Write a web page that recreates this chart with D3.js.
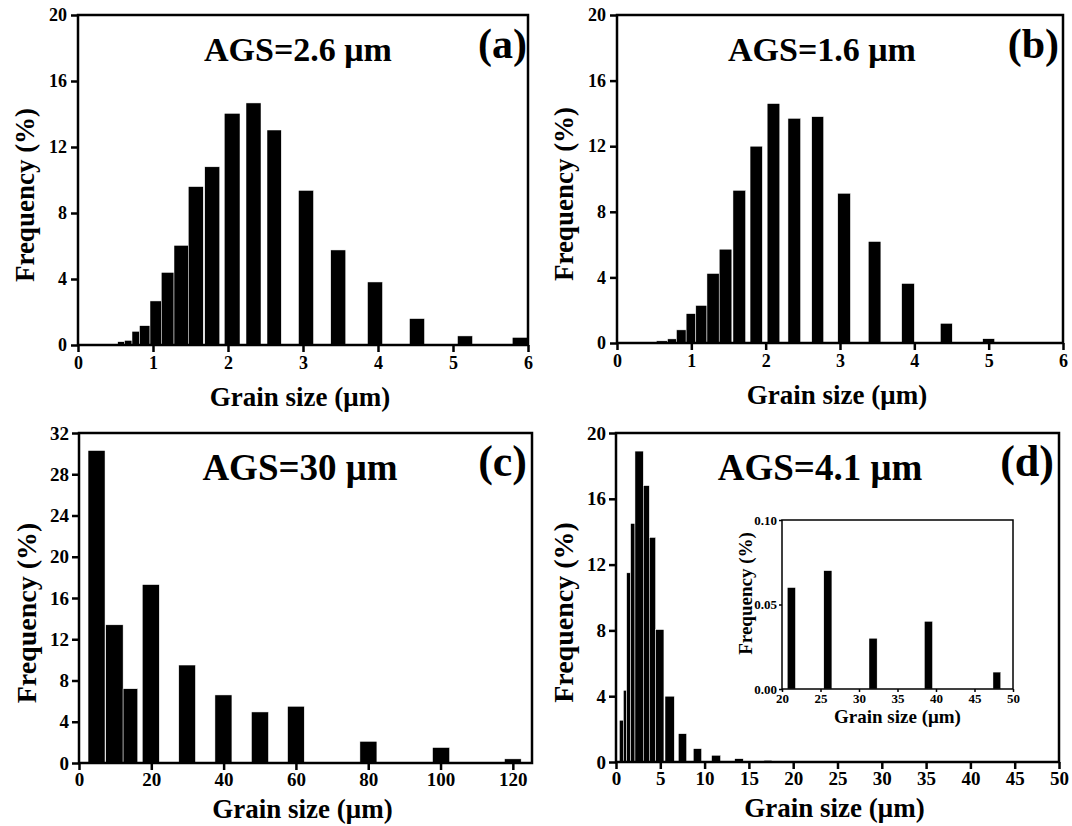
<!DOCTYPE html>
<html>
<head>
<meta charset="utf-8">
<script src="https://cdn.jsdelivr.net/npm/d3@7"></script>
<style>
  body { margin: 0; background: #fff; }
  svg text { font-family: "Liberation Serif", "Times New Roman", serif; font-weight: bold; fill: #000; }
</style>
</head>
<body>
<script>
// ---- data (bin start, bin end, frequency %) ----
const aLo   = [0.46, 0.53, 0.62, 0.72, 0.82, 0.96, 1.11, 1.28, 1.47, 1.69, 1.95, 2.24, 2.52, 2.94, 3.37, 3.86, 4.42, 5.06, 5.79];
const aHi   = [0.53, 0.62, 0.72, 0.82, 0.96, 1.11, 1.28, 1.47, 1.67, 1.89, 2.16, 2.44, 2.71, 3.14, 3.57, 4.06, 4.62, 5.26, 5.99];
const aFreq = [0.06, 0.2, 0.28, 0.83, 1.17, 2.67, 4.4, 6.04, 9.6, 10.8, 14.04, 14.67, 13.03, 9.37, 5.76, 3.82, 1.6, 0.55, 0.46];

const bLo   = [0.44, 0.53, 0.68, 0.80, 0.93, 1.06, 1.21, 1.375, 1.56, 1.79, 2.02, 2.30, 2.62, 2.97, 3.38, 3.83, 4.35, 4.92];
const bHi   = [0.53, 0.68, 0.80, 0.93, 1.06, 1.21, 1.375, 1.545, 1.73, 1.955, 2.19, 2.47, 2.78, 3.14, 3.55, 4.0, 4.51, 5.08];
const bFreq = [0.04, 0.13, 0.25, 0.8, 1.79, 2.29, 4.24, 5.72, 9.31, 12.0, 14.6, 13.7, 13.8, 9.13, 6.19, 3.63, 1.2, 0.26];

const cLo   = [2.5, 7.4, 12.2, 17.5, 27.6, 37.6, 47.7, 57.7, 77.7, 97.8, 117.7];
const cHi   = [7.2, 12.2, 16.25, 22.2, 32.2, 42.3, 52.4, 62.3, 82.4, 102.5, 122.3];
const cFreq = [30.3, 13.4, 7.2, 17.3, 9.5, 6.6, 4.95, 5.5, 2.1, 1.5, 0.4];

const dLo   = [0.38, 0.83, 1.2, 1.65, 2.14, 3.08, 3.76, 4.47, 5.53, 7.03, 8.72, 10.79, 13.4, 16.7];
const dHi   = [0.83, 1.2, 1.65, 2.14, 3.08, 3.76, 4.47, 5.41, 6.58, 7.97, 9.66, 11.8, 14.36, 17.6];
const dFreq = [2.54, 4.36, 11.5, 14.5, 18.9, 16.8, 13.65, 8.05, 4.0, 1.72, 0.81, 0.41, 0.2, 0.1];

// inset of (d): the large-grain tail
const insetLo   = [20.69, 25.43, 31.3, 38.5, 47.4];
const insetHi   = [21.74, 26.48, 32.35, 39.54, 48.4];
const insetFreq = [0.06, 0.07, 0.03, 0.04, 0.01];

// tick labels
const xTicksAB = [0, 1, 2, 3, 4, 5, 6];
const yTicksAB = [0, 4, 8, 12, 16, 20];
const xTicksC = [0, 20, 40, 60, 80, 100, 120];
const yTicksC = [0, 4, 8, 12, 16, 20, 24, 28, 32];
const xTicksD = [0, 5, 10, 15, 20, 25, 30, 35, 40, 45, 50];
const yTicksD = [0, 4, 8, 12, 16, 20];
const insetXTicks = [20, 25, 30, 35, 40, 45, 50];
const insetYTicks = [0, 0.05, 0.10];

const agsLabels = ["AGS=2.6 μm", "AGS=1.6 μm", "AGS=30 μm", "AGS=4.1 μm"];
const panelTags = ["(a)", "(b)", "(c)", "(d)"];

const w = 1072;
const h = 826;

const svg = d3.select("body").append("svg").attr("width", w).attr("height", h);

function drawPanel(p) {
  const x = d3.scaleLinear().domain(p.xDomain).range([p.left, p.right]);
  const y = d3.scaleLinear().domain(p.yDomain).range([p.bottom, p.top]);
  const g = svg.append("g");

  if (p.bg) {
    g.append("rect").attr("x", p.left).attr("y", p.top)
      .attr("width", p.right - p.left).attr("height", p.bottom - p.top).attr("fill", "#fff");
  }

  // bars
  g.selectAll("rect.bar")
    .data(p.lo)
    .enter()
    .append("rect")
    .attr("class", "bar")
    .attr("x", d => x(d))
    .attr("width", (d, i) => x(p.hi[i]) - x(d))
    .attr("y", (d, i) => y(p.freq[i]))
    .attr("height", (d, i) => y(0) - y(p.freq[i]))
    .attr("fill", "#000")
    .attr("stroke", "#fff")
    .attr("stroke-width", p.barStroke);

  // axes
  const xAxis = d3.axisBottom(x).tickValues(p.xTicks).tickFormat(d3.format("d"))
    .tickSize(p.tick).tickSizeOuter(0).tickPadding(p.pad);
  const yAxis = d3.axisLeft(y).tickValues(p.yTicks).tickFormat(p.yFormat || d3.format("d"))
    .tickSize(p.tick).tickSizeOuter(0).tickPadding(p.pad);

  const gx = g.append("g").attr("transform", "translate(0," + p.bottom + ")").call(xAxis);
  const gy = g.append("g").attr("transform", "translate(" + p.left + ",0)").call(yAxis);
  [gx, gy].forEach(a => {
    a.attr("font-size", p.tickFont).attr("font-family", null);
    a.select(".domain").remove();
    a.selectAll(".tick line").attr("stroke", "#000").attr("stroke-width", p.lineW);
  });

  // frame
  g.append("rect")
    .attr("x", p.left).attr("y", p.top)
    .attr("width", p.right - p.left).attr("height", p.bottom - p.top)
    .attr("fill", "none").attr("stroke", "#000").attr("stroke-width", p.lineW);

  // axis titles
  g.append("text")
    .attr("x", (p.left + p.right) / 2 + p.xTitleDx)
    .attr("y", p.bottom + p.xTitleDy)
    .attr("text-anchor", "middle")
    .style("font-size", p.titleFont + "px")
    .text("Grain size (μm)");

  g.append("text")
    .attr("transform", "translate(" + (p.left + p.yTitleDx) + "," + ((p.top + p.bottom) / 2 + p.yTitleDy) + ") rotate(-90)")
    .attr("dy", "0.35em")
    .attr("text-anchor", "middle")
    .style("font-size", p.yTitleFont + "px")
    .text("Frequency (%)");

  if (p.ags) {
    g.append("text")
      .attr("x", p.agsX)
      .attr("y", p.top + p.agsDy)
      .attr("text-anchor", "middle")
      .style("font-size", p.agsFont + "px")
      .text(p.ags);
    g.append("text")
      .attr("x", p.right - p.tagDx)
      .attr("y", p.top + 43)
      .attr("text-anchor", "end")
      .style("font-size", p.tagFont + "px")
      .text(p.tag);
  }
}

const topStyle = { tick: 7, pad: 4, tickFont: 18, lineW: 2.5, titleFont: 27, yTitleFont: 27, agsFont: 34, tagFont: 42,
  xTitleDy: 61, xTitleDx: -3, yTitleDx: -53, yTitleDy: 15, barStroke: 0.5, agsDy: 46 };
const botStyle = { tick: 7, pad: 3, tickFont: 19, lineW: 2.5, titleFont: 27, yTitleFont: 28, agsFont: 37, tagFont: 44,
  xTitleDy: 55, xTitleDx: -3, yTitleDx: -53, yTitleDy: 15, barStroke: 0.5, agsDy: 47 };

drawPanel(Object.assign({}, topStyle, {
  left: 78, right: 528, top: 15, bottom: 345, xDomain: [0, 6], yDomain: [0, 20],
  lo: aLo, hi: aHi, freq: aFreq, xTicks: xTicksAB, yTicks: yTicksAB,
  ags: agsLabels[0], agsX: 298, tag: panelTags[0], tagDx: 1
}));

drawPanel(Object.assign({}, topStyle, {
  left: 617, right: 1063, top: 15, bottom: 343, xDomain: [0, 6], yDomain: [0, 20],
  lo: bLo, hi: bHi, freq: bFreq, xTicks: xTicksAB, yTicks: yTicksAB,
  ags: agsLabels[1], agsX: 822, tag: panelTags[1], tagDx: 4
}));

drawPanel(Object.assign({}, botStyle, {
  left: 79, right: 532, top: 433, bottom: 763, xDomain: [0, 125.3], yDomain: [0, 32],
  lo: cLo, hi: cHi, freq: cFreq, xTicks: xTicksC, yTicks: yTicksC,
  ags: agsLabels[2], agsX: 300, tag: panelTags[2], tagDx: 5
}));

drawPanel(Object.assign({}, botStyle, {
  left: 616, right: 1059, top: 433, bottom: 762, xDomain: [0, 50], yDomain: [0, 20],
  lo: dLo, hi: dHi, freq: dFreq, xTicks: xTicksD, yTicks: yTicksD,
  ags: agsLabels[3], agsX: 820, tag: panelTags[3], tagDx: 5
}));

// inset inside (d)
drawPanel({
  left: 782, right: 1013, top: 520, bottom: 689, xDomain: [20, 50], yDomain: [0, 0.1],
  lo: insetLo, hi: insetHi, freq: insetFreq, xTicks: insetXTicks, yTicks: insetYTicks,
  yFormat: d3.format(".2f"), bg: true,
  tick: 3, pad: 2, tickFont: 13, lineW: 1.5, titleFont: 19, yTitleFont: 19,
  xTitleDy: 34, xTitleDx: 0, yTitleDx: -37, yTitleDy: -11, barStroke: 0.4
});
</script>
</body>
</html>
